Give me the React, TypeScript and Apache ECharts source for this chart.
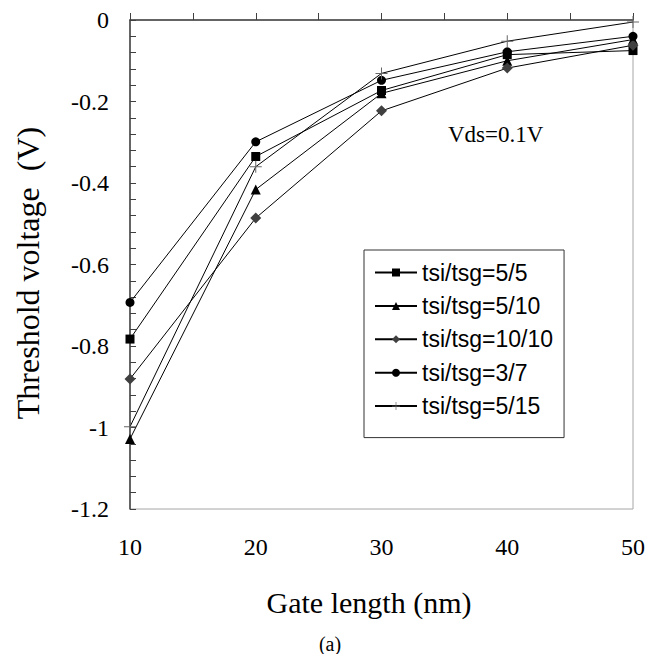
import React, { useEffect, useRef } from "react";
import * as echarts from "echarts";

// Gate length (nm)
const gateLengths = [10, 20, 30, 40, 50];

// Threshold voltage (V) per tsi/tsg combination
const vt_5_5 = [-0.783, -0.335, -0.173, -0.085, -0.075];
const vt_5_10 = [-1.028, -0.416, -0.18, -0.1, -0.048];
const vt_10_10 = [-0.881, -0.486, -0.223, -0.118, -0.062];
const vt_3_7 = [-0.693, -0.299, -0.148, -0.078, -0.04];
const vt_5_15 = [-0.998, -0.36, -0.131, -0.052, -0.005];

const seriesNames = [
  "tsi/tsg=5/5",
  "tsi/tsg=5/10",
  "tsi/tsg=10/10",
  "tsi/tsg=3/7",
  "tsi/tsg=5/15",
];

const PLUS = "path://M5.5,0H6.5V5.5H12V6.5H6.5V12H5.5V6.5H0V5.5H5.5Z";

const SERIF = "Liberation Serif";
const SANS = "Liberation Sans";

const tickRich = {
  t: { fontFamily: SERIF, fontSize: 24, color: "#000" },
};

export default function App() {
  const ref = useRef<HTMLDivElement>(null);

  useEffect(() => {
    if (!ref.current) return;
    const chart = echarts.init(ref.current, null, { renderer: "svg" });

    const pairs = (vals: number[]) => gateLengths.map((x, i) => [x, vals[i]]);

    const mk = (
      name: string,
      vals: number[],
      symbol: string,
      size: number,
      color: string
    ) => ({
      name,
      type: "line",
      data: pairs(vals),
      symbol,
      symbolSize: size,
      showSymbol: true,
      lineStyle: { color: "#000", width: 1 },
      itemStyle: { color, borderWidth: 0 },
      emphasis: { disabled: true },
    });

    chart.setOption({
      animation: false,
      backgroundColor: "#fff",
      textStyle: { fontFamily: SERIF },
      grid: {
        left: 130,
        right: 26,
        top: 20,
        bottom: 145,
        show: true,
        borderColor: "#a6a6a6",
        borderWidth: 1,
        backgroundColor: "transparent",
      },
      xAxis: {
        type: "value",
        min: 10,
        max: 50,
        interval: 10,
        axisLine: { lineStyle: { color: "#404040", width: 1.5 } },
        axisTick: { inside: true, length: 7, lineStyle: { color: "#404040" } },
        minorTick: {
          show: true,
          splitNumber: 2,
          length: 7,
          lineStyle: { color: "#404040" },
        },
        splitLine: { show: false },
        axisLabel: {
          margin: 26,
          fontFamily: SERIF,
          fontSize: 24,
          color: "#000",
          formatter: (v: number) => `{t|${v}}`,
          rich: tickRich,
        },
      },
      yAxis: {
        type: "value",
        min: -1.2,
        max: 0,
        interval: 0.2,
        axisLine: { lineStyle: { color: "#404040", width: 1.5 } },
        axisTick: { inside: true, length: 6, lineStyle: { color: "#404040" } },
        minorTick: {
          show: true,
          splitNumber: 5,
          length: 6,
          lineStyle: { color: "#404040" },
        },
        splitLine: { show: false },
        axisLabel: {
          margin: 21,
          fontFamily: SERIF,
          fontSize: 24,
          color: "#000",
          formatter: (v: number) => `{t|${Math.round(v * 10) / 10}}`,
          rich: tickRich,
        },
      },
      legend: {
        orient: "vertical",
        left: 364,
        top: 250,
        itemWidth: 42,
        itemHeight: 10,
        itemGap: 10.4,
        padding: [11, 11, 20, 10],
        borderColor: "#333",
        borderWidth: 1,
        backgroundColor: "#fff",
        data: seriesNames,
        textStyle: {
          fontFamily: SANS,
          fontSize: 23,
          lineHeight: 23,
          color: "#000",
        },
      },
      graphic: [
        {
          type: "text",
          x: 28,
          y: 273,
          rotation: Math.PI / 2,
          style: {
            text: "Threshold voltage  (V)",
            font: `32px "${SERIF}"`,
            fill: "#000",
            align: "center",
            verticalAlign: "middle",
          },
        },
        {
          type: "text",
          x: 369,
          y: 602,
          style: {
            text: "Gate length (nm)",
            font: `30px "${SERIF}"`,
            fill: "#000",
            align: "center",
            verticalAlign: "middle",
          },
        },
        {
          type: "text",
          x: 330,
          y: 644,
          style: {
            text: "(a)",
            font: `20px "${SERIF}"`,
            fill: "#000",
            align: "center",
            verticalAlign: "middle",
          },
        },
        {
          type: "text",
          x: 448,
          y: 134,
          style: {
            text: "Vds=0.1V",
            font: `23px "${SERIF}"`,
            fill: "#000",
            align: "left",
            verticalAlign: "middle",
          },
        },
      ],
      series: [
        mk(seriesNames[0], vt_5_5, "rect", 9, "#000"),
        mk(seriesNames[1], vt_5_10, "triangle", 10, "#000"),
        mk(seriesNames[2], vt_10_10, "diamond", 11, "#404040"),
        mk(seriesNames[3], vt_3_7, "circle", 9, "#000"),
        mk(seriesNames[4], vt_5_15, PLUS, 12, "#666"),
      ],
    });

    return () => chart.dispose();
  }, []);

  return (
    <div
      ref={ref}
      style={{ position: "absolute", left: 0, top: 0, width: 659, height: 654 }}
    />
  );
}
